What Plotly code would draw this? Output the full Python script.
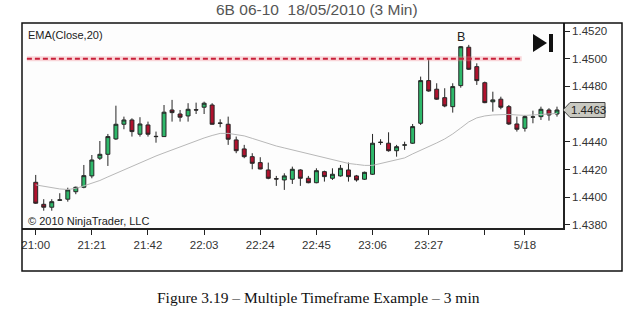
import plotly.graph_objects as go

# ---------------- data ----------------
opens = [1.44108, 1.43949, 1.43928, 1.43978, 1.43986, 1.44040, 1.44072, 1.44154, 1.44282, 1.44310,
         1.44421, 1.44527, 1.44558, 1.44455, 1.44522, 1.44440, 1.44438, 1.44630, 1.44601, 1.44587,
         1.44632, 1.44650, 1.44666, 1.44536, 1.44527, 1.44414, 1.44349, 1.44293, 1.44250, 1.44197,
         1.44134, 1.44125, 1.44130, 1.44197, 1.44137, 1.44105, 1.44185, 1.44137, 1.44154, 1.44197,
         1.44154, 1.44130, 1.44166, 1.44395, 1.44390, 1.44336, 1.44376, 1.44390, 1.44534, 1.44842,
         1.44780, 1.44719, 1.44654, 1.44806, 1.45083, 1.44943, 1.44827, 1.44689, 1.44708, 1.44654,
         1.44529, 1.44498, 1.44578, 1.44582, 1.44630, 1.44601]
highs = [1.44161, 1.43986, 1.43986, 1.44029, 1.44069, 1.44077, 1.44233, 1.44305, 1.44406, 1.44457,
         1.44661, 1.44582, 1.44570, 1.44578, 1.44546, 1.44474, 1.44666, 1.44703, 1.44630, 1.44679,
         1.44683, 1.44690, 1.44679, 1.44563, 1.44582, 1.44438, 1.44378, 1.44318, 1.44289, 1.44250,
         1.44154, 1.44173, 1.44221, 1.44202, 1.44154, 1.44209, 1.44192, 1.44209, 1.44233, 1.44250,
         1.44161, 1.44185, 1.44457, 1.44419, 1.44469, 1.44378, 1.44401, 1.44529, 1.44871, 1.45004,
         1.44823, 1.44787, 1.44823, 1.45092, 1.45100, 1.44967, 1.44835, 1.44762, 1.44726, 1.44666,
         1.44582, 1.44594, 1.44625, 1.44654, 1.44643, 1.44654]
lows = [1.43952, 1.43903, 1.43903, 1.43973, 1.43968, 1.44022, 1.44065, 1.44137, 1.44269, 1.44226,
        1.44414, 1.44491, 1.44438, 1.44438, 1.44438, 1.44394, 1.44436, 1.44546, 1.44546, 1.44546,
        1.44601, 1.44601, 1.44525, 1.44505, 1.44378, 1.44318, 1.44282, 1.44202, 1.44202, 1.44130,
        1.44082, 1.44053, 1.44096, 1.44082, 1.44101, 1.44101, 1.44113, 1.44125, 1.44149, 1.44113,
        1.44113, 1.44125, 1.44161, 1.44378, 1.44329, 1.44293, 1.44342, 1.44385, 1.44522, 1.44762,
        1.44703, 1.44650, 1.44611, 1.44791, 1.44919, 1.44811, 1.44679, 1.44618, 1.44635, 1.44522,
        1.44474, 1.44474, 1.44534, 1.44558, 1.44553, 1.44582]
closes = [1.43957, 1.43928, 1.43968, 1.43981, 1.44053, 1.44072, 1.44156, 1.44269, 1.44310, 1.44438,
          1.44527, 1.44558, 1.44474, 1.44529, 1.44455, 1.44438, 1.44614, 1.44611, 1.44578, 1.44635,
          1.44630, 1.44679, 1.44527, 1.44534, 1.44419, 1.44336, 1.44293, 1.44245, 1.44204, 1.44137,
          1.44132, 1.44154, 1.44202, 1.44137, 1.44105, 1.44192, 1.44149, 1.44166, 1.44209, 1.44149,
          1.44125, 1.44180, 1.44390, 1.44397, 1.44336, 1.44365, 1.44378, 1.44510, 1.44842, 1.44767,
          1.44708, 1.44659, 1.44799, 1.45087, 1.44924, 1.44842, 1.44683, 1.44703, 1.44650, 1.44529,
          1.44491, 1.44582, 1.44580, 1.44635, 1.44594, 1.44630]
ema20 = [1.44089, 1.44078, 1.44067, 1.44060, 1.44056, 1.44064, 1.44082, 1.44100, 1.44121, 1.44147,
         1.44172, 1.44197, 1.44226, 1.44251, 1.44277, 1.44298, 1.44320, 1.44342, 1.44363, 1.44385,
         1.44406, 1.44428, 1.44446, 1.44461, 1.44461, 1.44453, 1.44443, 1.44425, 1.44406, 1.44388,
         1.44370, 1.44356, 1.44342, 1.44327, 1.44313, 1.44298, 1.44284, 1.44269, 1.44257, 1.44244,
         1.44237, 1.44230, 1.44230, 1.44244, 1.44258, 1.44273, 1.44284, 1.44313, 1.44338, 1.44363,
         1.44392, 1.44421, 1.44457, 1.44500, 1.44544, 1.44573, 1.44587, 1.44594, 1.44598, 1.44598,
         1.44594, 1.44591, 1.44594, 1.44598, 1.44601, 1.44605]
bars = list(range(len(closes)))

tick_bars = [0, 7, 14, 21, 28, 35, 42, 49, 56, 61]
tick_labels = ["21:00", "21:21", "21:42", "22:03", "22:24", "22:45", "23:06", "23:27", "", "5/18"]
price_ticks = [1.4380, 1.4400, 1.4420, 1.4440, 1.4480, 1.4500, 1.4520]
price_tick_labels = ["1.4380", "1.4400", "1.4420", "1.4440", "1.4480", "1.4500", "1.4520"]

level_price = 1.4500
level_from_bar = -1.1
level_to_bar = 60.6
marker_bar = 53
marker_text = "B"
last_price_label = "1.4463"

# ---------------- figure ----------------
W, H = 633, 311
L, R, T, B = 22, 70, 23, 83
pw, ph = W - L - R, H - T - B

def px_x(p):
    return (p - L) / pw

def px_y(p):
    return (T + ph - p) / ph

fig = go.Figure()

# glow + dashed level line
fig.add_trace(go.Scatter(x=[level_from_bar, level_to_bar], y=[level_price, level_price],
                         mode="lines", line=dict(color="rgba(240,140,150,0.35)", width=5),
                         hoverinfo="skip"))
fig.add_trace(go.Scatter(x=[level_from_bar, level_to_bar], y=[level_price, level_price],
                         mode="lines", line=dict(color="#c8203a", width=2, dash="5px,3px"),
                         hoverinfo="skip"))

# EMA
fig.add_trace(go.Scatter(x=bars, y=ema20, mode="lines",
                         line=dict(color="#b8b8b8", width=1), hoverinfo="skip"))

# candles
fig.add_trace(go.Candlestick(
    x=bars, open=opens, high=highs, low=lows, close=closes,
    increasing=dict(fillcolor="#2eb86a", line=dict(color="#262626", width=1)),
    decreasing=dict(fillcolor="#b0122e", line=dict(color="#262626", width=1)),
    whiskerwidth=0, hoverinfo="skip"))

fig.update_layout(
    width=W, height=H,
    margin=dict(l=L, r=R, t=T, b=B),
    paper_bgcolor="white", plot_bgcolor="#fdfdfd",
    showlegend=False,
    font=dict(family="Liberation Sans, Arial, sans-serif", size=11, color="#333333"),
    xaxis=dict(range=[-1.71, 65.75], rangeslider=dict(visible=False),
               tickmode="array", tickvals=tick_bars, ticktext=tick_labels,
               ticks="outside", ticklen=5, tickcolor="#222", tickwidth=1,
               showgrid=False, zeroline=False, showline=True, linecolor="#222", linewidth=1.5,
               tickfont=dict(size=11.5, color="#333")),
    yaxis=dict(range=[1.43778, 1.45258], side="right",
               tickmode="array", tickvals=price_ticks, ticktext=price_tick_labels,
               ticks="outside", ticklen=5, tickcolor="#222", tickwidth=1,
               showgrid=False, zeroline=False, showline=True, linecolor="#222", linewidth=1.5,
               tickfont=dict(size=11.5, color="#333")),
)

shapes = []
# outer frame
shapes.append(dict(type="rect", xref="paper", yref="paper",
                   x0=0, x1=px_x(622), y0=px_y(271), y1=1,
                   line=dict(color="#111", width=1.5), fillcolor="rgba(0,0,0,0)", layer="above"))
# play-to-end icon
shapes.append(dict(type="path", xref="paper", yref="paper",
                   path=f"M {px_x(533)} {px_y(34)} L {px_x(547)} {px_y(43)} L {px_x(533)} {px_y(52)} Z",
                   fillcolor="#111", line=dict(width=0)))
shapes.append(dict(type="rect", xref="paper", yref="paper",
                   x0=px_x(549), x1=px_x(553), y0=px_y(52), y1=px_y(34),
                   fillcolor="#111", line=dict(width=0)))
# last price tag
half = 0.00054
lp = closes[-1]
tag = (f"M {px_x(563)} {lp} L {px_x(570)} {lp + half} L {px_x(605)} {lp + half} "
       f"L {px_x(605)} {lp - half} L {px_x(570)} {lp - half} Z")
shapes.append(dict(type="path", xref="paper", yref="y", path=tag,
                   fillcolor="#c9c9c1", line=dict(color="#444", width=1)))
fig.update_layout(shapes=shapes)

annotations = [
    dict(text="6B 06-10  18/05/2010 (3 Min)", xref="paper", yref="paper",
         x=px_x(317), y=px_y(10), showarrow=False, xanchor="center", yanchor="middle",
         font=dict(size=15.5, color="#555")),
    dict(text="EMA(Close,20)", xref="paper", yref="paper", x=px_x(26), y=px_y(35),
         showarrow=False, xanchor="left", yanchor="middle", font=dict(size=11, color="#222")),
    dict(text="© 2010 NinjaTrader, LLC", xref="paper", yref="paper", x=px_x(26), y=px_y(221),
         showarrow=False, xanchor="left", yanchor="middle", font=dict(size=11, color="#222")),
    dict(text=marker_text, xref="x", yref="paper", x=marker_bar, y=px_y(37),
         showarrow=False, xanchor="center", yanchor="middle", font=dict(size=12.5, color="#222")),
    dict(text=last_price_label, xref="paper", yref="y", x=px_x(588), y=lp,
         showarrow=False, xanchor="center", yanchor="middle", font=dict(size=11.5, color="#222")),
    dict(text="Figure 3.19 – Multiple Timeframe Example – 3 min", xref="paper", yref="paper",
         x=px_x(318), y=px_y(297), showarrow=False, xanchor="center", yanchor="middle",
         font=dict(family="Liberation Serif, Times New Roman, serif", size=15.5, color="#111")),
]
fig.update_layout(annotations=annotations)

fig.write_html("out.html")
